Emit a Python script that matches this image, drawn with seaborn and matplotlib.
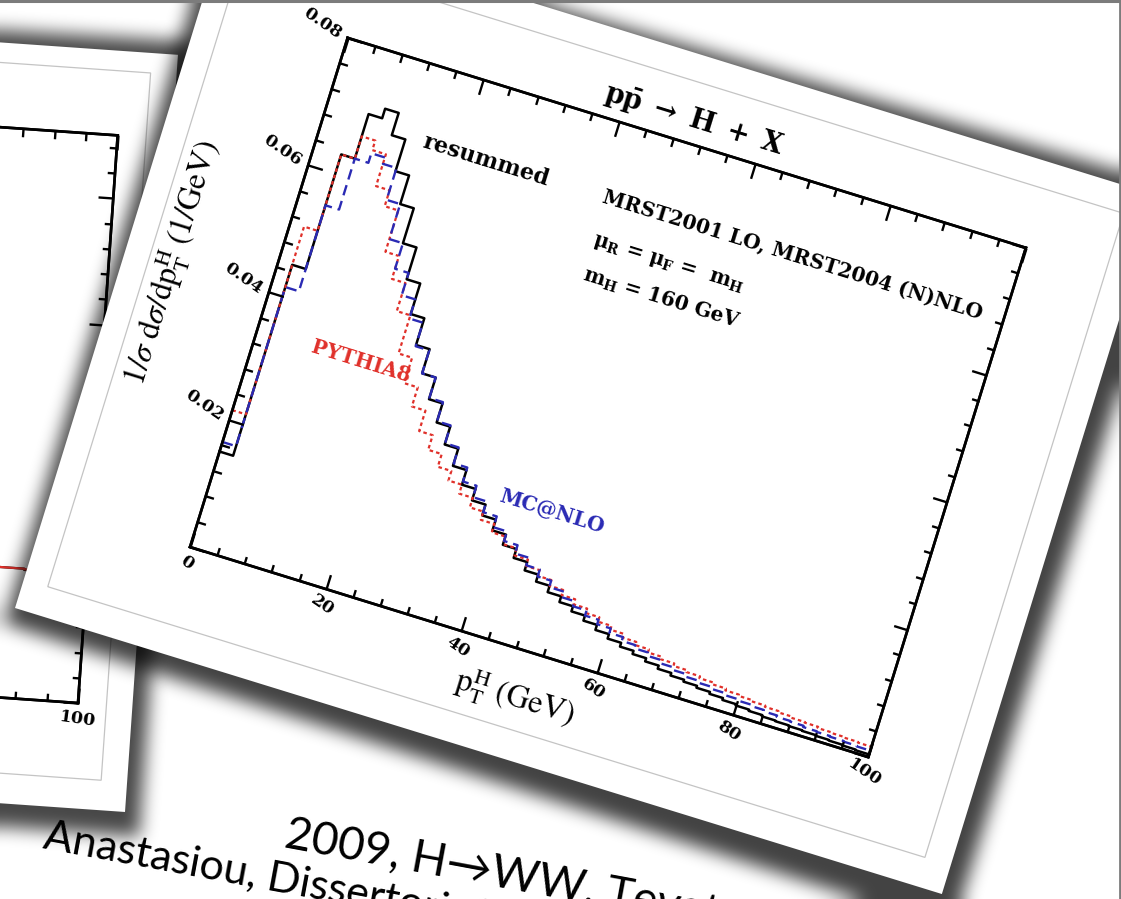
import numpy as np
import matplotlib
matplotlib.use("Agg")
import matplotlib.pyplot as plt
import seaborn as sns
from matplotlib.transforms import Affine2D
from matplotlib.patches import Polygon
from matplotlib.lines import Line2D
from mpl_toolkits.axisartist import floating_axes
from mpl_toolkits.axisartist.grid_finder import FixedLocator, DictFormatter

W_PX, H_PX = 1121, 899

# ---------------- data: normalised Higgs p_T spectra (1/GeV), 2 GeV bins ----------------
pt_edges = list(range(0, 102, 2))
resummed = [0.0150, 0.0450, 0.0630, 0.0700, 0.0715, 0.0680, 0.0630, 0.0585, 0.0530, 0.0480,
            0.0432, 0.0390, 0.0352, 0.0318, 0.0288, 0.0260, 0.0233, 0.0210, 0.0192, 0.0175,
            0.0158, 0.0142, 0.0128, 0.0115, 0.0104, 0.0094, 0.0085, 0.0077, 0.0069, 0.0061,
            0.0054, 0.0048, 0.0043, 0.0038, 0.0033, 0.0029, 0.0026, 0.0023, 0.0020, 0.0017,
            0.0015, 0.0013, 0.0011, 0.0010, 0.0009, 0.0008, 0.0007, 0.0006, 0.0005, 0.0004]
pythia8 = [0.0215, 0.0510, 0.0630, 0.0665, 0.0650, 0.0600, 0.0575, 0.0510, 0.0474, 0.0430,
           0.0370, 0.0330, 0.0300, 0.0268, 0.0245, 0.0225, 0.0210, 0.0196, 0.0181, 0.0168,
           0.0155, 0.0143, 0.0132, 0.0122, 0.0113, 0.0104, 0.0096, 0.0088, 0.0081, 0.0074,
           0.0068, 0.0062, 0.0057, 0.0052, 0.0048, 0.0044, 0.0041, 0.0038, 0.0035, 0.0032,
           0.0030, 0.0028, 0.0026, 0.0024, 0.0022, 0.0021, 0.0019, 0.0018, 0.0017, 0.0016]
mcatnlo = [0.0165, 0.0415, 0.0550, 0.0630, 0.0645, 0.0635, 0.0585, 0.0530, 0.0490, 0.0455,
           0.0425, 0.0388, 0.0352, 0.0320, 0.0290, 0.0262, 0.0237, 0.0215, 0.0197, 0.0180,
           0.0163, 0.0148, 0.0135, 0.0123, 0.0112, 0.0102, 0.0093, 0.0085, 0.0077, 0.0070,
           0.0063, 0.0057, 0.0052, 0.0047, 0.0042, 0.0038, 0.0034, 0.0031, 0.0028, 0.0025,
           0.0023, 0.0021, 0.0019, 0.0017, 0.0016, 0.0014, 0.0013, 0.0012, 0.0011, 0.0010]

x_major = [0.0, 20.0, 40.0, 60.0, 80.0, 100.0]
x_major_labels = ["0", "20", "40", "60", "80", "100"]
y_major = [0.0, 0.02, 0.04, 0.06, 0.08]
y_major_labels = ["", "0.02", "0.04", "0.06", "0.08"]
x_minor = [4.0, 8.0, 12.0, 16.0, 24.0, 28.0, 32.0, 36.0, 44.0, 48.0, 52.0, 56.0,
           64.0, 68.0, 72.0, 76.0, 84.0, 88.0, 92.0, 96.0]
y_minor = [0.004, 0.008, 0.012, 0.016, 0.024, 0.028, 0.032, 0.036, 0.044, 0.048,
           0.052, 0.056, 0.064, 0.068, 0.072, 0.076]

# partly hidden slide underneath
back_edges = [80, 84, 88, 92, 96, 100]
back_black = [0.0212, 0.0208, 0.0206, 0.0204, 0.0201]
back_red = [0.0214, 0.0209, 0.0206, 0.0205, 0.0203]
back_y_major = [0.0, 0.02, 0.04, 0.06, 0.08]
back_y_minor = [0.004, 0.008, 0.012, 0.016, 0.024, 0.028, 0.032, 0.036, 0.044, 0.048,
                0.052, 0.056, 0.064, 0.068, 0.072, 0.076, 0.084, 0.088]

RED = "#e0302a"
BLUE = "#2a2ab4"
SERIF = "DejaVu Serif"
ROT = -17.2

plt.rcParams["mathtext.fontset"] = "stix"
fig = plt.figure(figsize=(W_PX / 100, H_PX / 100), dpi=100)
fig.patch.set_facecolor("white")


# ---------------- helpers for the slide cards ----------------
def local_points(origin, angle, pts):
    a = np.deg2rad(angle)
    u = np.array([np.cos(a), np.sin(a)])
    v = np.array([np.sin(a), -np.cos(a)])
    o = np.asarray(origin, float)
    return np.array([o + p * u + q * v for p, q in pts])


def card_quad(origin, angle, w, h, left=0.0, right=0.0, bottom=0.0, top=0.0):
    return local_points(origin, angle, [(left, bottom), (w - right, bottom),
                                        (w - right, h - top), (left, h - top)])


def quad_mask(q):
    yy, xx = np.mgrid[0:H_PX, 0:W_PX] + 0.5
    area = sum(q[i][0] * q[(i + 1) % 4][1] - q[(i + 1) % 4][0] * q[i][1] for i in range(4))
    s = np.sign(area)
    m = np.ones((H_PX, W_PX), bool)
    for i in range(4):
        x0, y0 = q[i]
        x1, y1 = q[(i + 1) % 4]
        m &= ((x1 - x0) * (yy - y0) - (y1 - y0) * (xx - x0)) * s >= 0
    return m.astype(float)


def soften(a, r, passes=3):
    for _ in range(passes):
        for k in (0, 1):
            a = np.swapaxes(a, 0, k)
            p = np.pad(a, ((r + 1, r), (0, 0)), mode="edge")
            c = np.cumsum(p, axis=0)
            a = (c[2 * r + 1:] - c[:-(2 * r + 1)]) / (2 * r + 1)
            a = np.swapaxes(a, 0, k)
    return a


def draw_card(ax, origin, angle, w, h, inset, shade_pts, blur, strength):
    sq = local_points(origin, angle, shade_pts)
    shade = soften(quad_mask(sq), blur) * strength
    rgba = np.zeros((H_PX, W_PX, 4))
    rgba[..., 3] = shade
    ax.imshow(rgba, extent=(0, W_PX, H_PX, 0), interpolation="bilinear", aspect="auto")
    ax.add_patch(Polygon(card_quad(origin, angle, w, h), closed=True,
                         facecolor="white", edgecolor="none"))
    ax.add_patch(Polygon(card_quad(origin, angle, w, h, *inset), closed=True,
                         facecolor="none", edgecolor="#c4c4c4", linewidth=0.9))
    ax.set_xlim(0, W_PX)
    ax.set_ylim(H_PX, 0)


def pixel_axes(z):
    a = fig.add_axes([0, 0, 1, 1], zorder=z)
    a.set_xlim(0, W_PX)
    a.set_ylim(H_PX, 0)
    a.axis("off")
    a.patch.set_alpha(0)
    return a


def floating_rect(bl_img, tr, extremes):
    x0, x1, y0, y1 = extremes
    pts = tr.transform([(x0, y0), (x1, y0), (x1, y1), (x0, y1)])
    pts = pts - pts[0]
    bl = np.array([bl_img[0], H_PX - bl_img[1]])
    lo, hi = pts.min(0), pts.max(0)
    ctr = bl + (lo + hi) / 2
    size = (hi - lo) * 1.02
    return [(ctr[0] - size[0] / 2) / W_PX, (ctr[1] - size[1] / 2) / H_PX,
            size[0] / W_PX, size[1] / H_PX]


LABEL_TURN = {"left": 90.0, "bottom": 0.0, "right": -90.0, "top": 180.0}


def rotated_frame(bl_img, angle, wpx, hpx, extremes, majors, labels, minors, z):
    x0, x1, y0, y1 = extremes
    tr = Affine2D().scale(wpx / (x1 - x0), hpx / (y1 - y0)).rotate_deg(-angle)
    rect = floating_rect(bl_img, tr, extremes)
    made = []
    for locs, fmts, size, zz in ((majors, labels, 10.8, z), (minors, ({}, {}), 5.6, z + 0.05)):
        gh = floating_axes.GridHelperCurveLinear(
            tr, extremes=extremes,
            grid_locator1=FixedLocator(locs[0]), grid_locator2=FixedLocator(locs[1]),
            tick_formatter1=DictFormatter(fmts[0]), tick_formatter2=DictFormatter(fmts[1]))
        a = fig.add_axes(rect, axes_class=floating_axes.FloatingAxes, grid_helper=gh)
        a.set_zorder(zz)
        for side in ("left", "right", "top", "bottom"):
            art = a.axis[side]
            art.line.set_linewidth(1.9)
            art.major_ticks.set_ticksize(size)
            art.major_ticks.set_markeredgewidth(1.7)
            lab = art.major_ticklabels
            lab.set_fontsize(12.5)
            lab.set_fontweight("bold")
            lab.set_fontfamily(SERIF)
            lab.set_rotation(LABEL_TURN[side] - angle)
            lab.set_pad(6)
        made.append(a)
    main, over = made
    over.patch.set_visible(False)
    for side in ("left", "right", "top", "bottom"):
        over.axis[side].major_ticklabels.set_visible(False)
        over.axis[side].label.set_visible(False)
    aux = main.get_aux_axes(tr)
    return main, aux


# ---------------- slide underneath ----------------
bg = pixel_axes(0)
draw_card(bg, (-772.8, 749.2), 4.0, 900, 759, (0, 26, 30, 20),
          [(-10, -20), (916, -24), (916, 773), (-10, 765)], blur=8, strength=0.72)

back_ax, back_aux = rotated_frame(
    (-707.1, 648.1), 4.0, 787, 569, (0.0, 100.0, 0.0, 0.09),
    (x_major, back_y_major), ({v: s for v, s in zip(x_major, x_major_labels)}, {}),
    (x_minor, back_y_minor), 1)
back_ax.patch.set_facecolor("white")
back_centers = [(a + b) / 2 for a, b in zip(back_edges[:-1], back_edges[1:])]
sns.histplot(x=back_centers, weights=back_black, bins=back_edges, element="step",
             fill=False, color="black", linewidth=1.6, ax=back_aux)
sns.histplot(x=back_centers, weights=back_red, bins=back_edges, element="step",
             fill=False, color=RED, linewidth=1.6, ax=back_aux)
back_aux.set_xlabel("")
back_aux.set_ylabel("")

# ---------------- front slide card ----------------
front = pixel_axes(2)
draw_card(front, (15, 608), 17.15, 970, 731, (25, 27, 30, 27),
          [(-6, -18), (990, -30), (991, 744), (-10, 728)], blur=8, strength=0.74)

ax, aux = rotated_frame(
    (190, 547), 17.2, 710, 533, (0.0, 100.0, 0.0, 0.08),
    (x_major, y_major),
    ({v: s for v, s in zip(x_major, x_major_labels)},
     {v: s for v, s in zip(y_major, y_major_labels)}),
    (x_minor, y_minor), 3)
ax.patch.set_facecolor("white")

ax.axis["left"].label.set_text(r"$1/\sigma\ \mathrm{d}\sigma/\mathrm{dp}_\mathrm{T}^\mathrm{H}\ (1/\mathrm{GeV})$")
ax.axis["left"].label.set_fontsize(23)
ax.axis["left"].label.set_pad(22)
ax.axis["bottom"].label.set_text(r"$\mathrm{p}_\mathrm{T}^\mathrm{H}\ (\mathrm{GeV})$")
ax.axis["bottom"].label.set_fontsize(23)
ax.axis["bottom"].label.set_pad(6)

pt_centers = [(a + b) / 2 for a, b in zip(pt_edges[:-1], pt_edges[1:])]
sns.histplot(x=pt_centers, weights=resummed, bins=pt_edges, element="step", fill=False,
             color="black", linewidth=1.8, ax=aux)
sns.histplot(x=pt_centers, weights=pythia8, bins=pt_edges, element="step", fill=False,
             color=RED, linewidth=1.6, linestyle=(0, (1.6, 1.4)), ax=aux)
sns.histplot(x=pt_centers, weights=mcatnlo, bins=pt_edges, element="step", fill=False,
             color=BLUE, linewidth=1.7, linestyle=(0, (4.5, 2.5)), ax=aux)
aux.set_xlabel("")
aux.set_ylabel("")

txt = dict(rotation=ROT, rotation_mode="anchor", va="center", ha="left",
           fontfamily=SERIF, fontweight="bold", math_fontfamily="dejavuserif")
aux.text(50, 0.0835, r"$\mathbf{p\bar{p}\ \rightarrow\ H\ +\ X}$", fontsize=19.5,
         **{**txt, "ha": "center"})
aux.text(14.5, 0.0685, "resummed", fontsize=16, **txt)
aux.text(41.0, 0.0685, "MRST2001 LO, MRST2004 (N)NLO", fontsize=14.5, **txt)
aux.text(41.5, 0.0618, r"$\mathbf{\mu_R}$ = $\mathbf{\mu_F}$ =  $\mathbf{m_H}$", fontsize=14.5, **txt)
aux.text(41.5, 0.0566, r"$\mathbf{m_H}$ = 160 GeV", fontsize=14.5, **txt)
aux.text(8.0, 0.0342, "PYTHIA8", fontsize=14.5, color=RED, **txt)
aux.text(39.5, 0.0211, "MC@NLO", fontsize=14.5, color=BLUE, **txt)

# ---------------- slide caption ----------------
cap = dict(rotation=-10.5, rotation_mode="anchor", ha="left", va="baseline",
           family=["Lato", "DejaVu Sans"], color="black", zorder=6)
fig.text(283 / W_PX, 1 - 847 / H_PX, "2009, H\u2192WW, Tevatron", fontsize=33, **cap)
fig.text(42 / W_PX, 1 - 847 / H_PX, "Anastasiou, Dissertori, Grazzini, St\u00f6ckli, Webber",
         fontsize=31, **cap)

# slide frame
fig.add_artist(Line2D([0, 1], [1 - 1.2 / H_PX] * 2, transform=fig.transFigure,
                      color="#7c7c7c", linewidth=2.2, zorder=10))
fig.add_artist(Line2D([1 - 1.5 / W_PX] * 2, [0, 1], transform=fig.transFigure,
                      color="#7c7c7c", linewidth=2.0, zorder=10))

fig.savefig("out.png", dpi=100)
